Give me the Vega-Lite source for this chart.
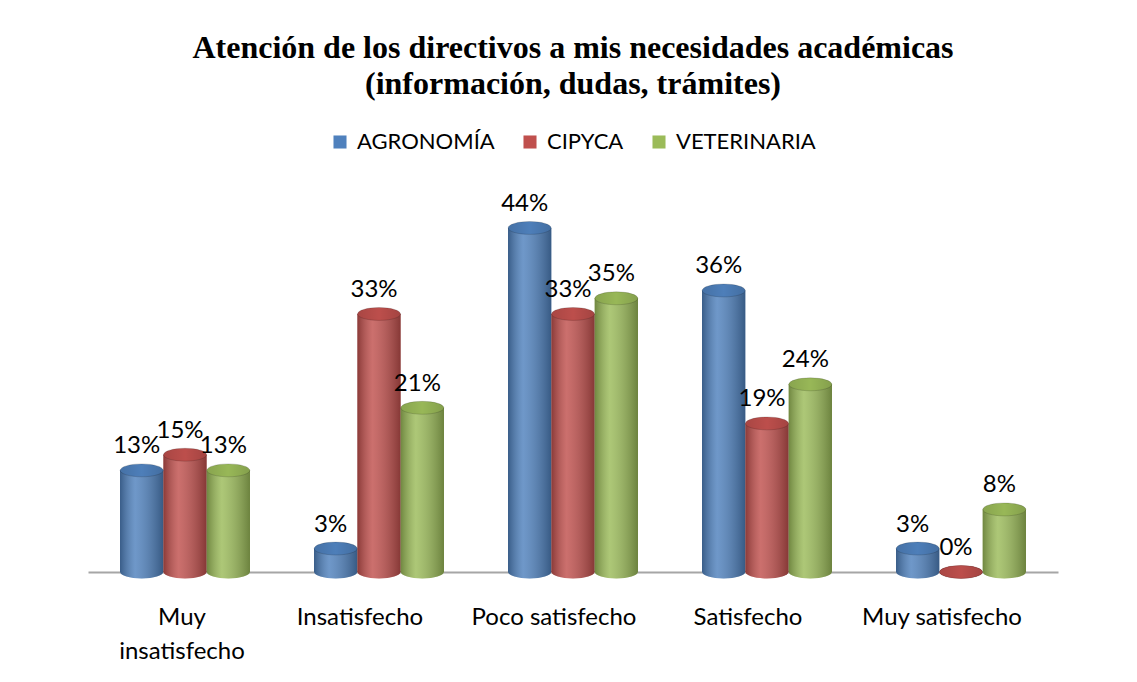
{
  "$schema": "https://vega.github.io/schema/vega-lite/v6.json",
  "autosize": "none",
  "width": 970,
  "height": 391,
  "padding": {"left": 88, "top": 181, "right": 79, "bottom": 110},
  "background": "white",
  "title": {
    "text": ["Atención de los directivos a mis necesidades académicas", "(información, dudas, trámites)"],
    "font": "Liberation Serif",
    "fontSize": 32,
    "fontWeight": "bold",
    "lineHeight": 36,
    "color": "#000000",
    "anchor": "middle",
    "frame": "group",
    "offset": 30
  },
  "config": {
    "view": {"stroke": null},
    "font": "Lato"
  },
  "data": {
    "values": [
      {"cat": "Muy insatisfecho", "serie": "AGRONOMÍA", "v": 0.13},
      {"cat": "Muy insatisfecho", "serie": "CIPYCA", "v": 0.15},
      {"cat": "Muy insatisfecho", "serie": "VETERINARIA", "v": 0.13},
      {"cat": "Insatisfecho", "serie": "AGRONOMÍA", "v": 0.03},
      {"cat": "Insatisfecho", "serie": "CIPYCA", "v": 0.33},
      {"cat": "Insatisfecho", "serie": "VETERINARIA", "v": 0.21},
      {"cat": "Poco satisfecho", "serie": "AGRONOMÍA", "v": 0.44},
      {"cat": "Poco satisfecho", "serie": "CIPYCA", "v": 0.33},
      {"cat": "Poco satisfecho", "serie": "VETERINARIA", "v": 0.35},
      {"cat": "Satisfecho", "serie": "AGRONOMÍA", "v": 0.36},
      {"cat": "Satisfecho", "serie": "CIPYCA", "v": 0.19},
      {"cat": "Satisfecho", "serie": "VETERINARIA", "v": 0.24},
      {"cat": "Muy satisfecho", "serie": "AGRONOMÍA", "v": 0.03},
      {"cat": "Muy satisfecho", "serie": "CIPYCA", "v": 0.0},
      {"cat": "Muy satisfecho", "serie": "VETERINARIA", "v": 0.08}
    ]
  },
  "encoding": {
    "x": {
      "field": "cat",
      "type": "nominal",
      "sort": null,
      "scale": {"paddingInner": 0.33, "paddingOuter": 0.165},
      "axis": {
        "title": null,
        "labelAngle": 0,
        "labelFontSize": 24,
        "labelFont": "Lato",
        "labelColor": "#000000",
        "labelPadding": 33,
        "labelLineHeight": 34,
        "labelBaseline": "top",
        "labelOffset": {"condition": {"test": "datum.value == 'Muy insatisfecho'", "value": -3}, "value": -19},
        "ticks": false,
        "domainColor": "#a6a6a6",
        "domainWidth": 2,
        "labelExpr": "datum.value == 'Muy insatisfecho' ? ['Muy', 'insatisfecho'] : datum.value"
      }
    },
    "xOffset": {
      "field": "serie",
      "type": "nominal",
      "sort": ["AGRONOMÍA", "CIPYCA", "VETERINARIA"],
      "scale": {"paddingInner": 0, "paddingOuter": 0}
    },
    "y": {
      "field": "v",
      "type": "quantitative",
      "scale": {"domain": [0, 0.5]},
      "axis": null
    }
  },
  "layer": [
    {
      "mark": {"type": "point", "shape": "M-1,0 A1,0.3 0 1,0 1,0 A1,0.3 0 1,0 -1,0 Z", "size": 1849, "filled": true, "opacity": 1},
      "encoding": {
        "y": {"datum": 0},
        "color": {
          "field": "serie", "type": "nominal",
          "scale": {"domain": ["AGRONOMÍA", "CIPYCA", "VETERINARIA"], "range": ["#4F81BD", "#C0504D", "#9BBB59"]},
          "legend": {
            "orient": "none",
            "legendX": 241,
            "legendY": -50,
            "direction": "horizontal",
            "title": null,
            "symbolType": "square",
            "symbolSize": 170,
            "symbolOpacity": 1,
            "labelFontSize": 22,
            "labelFont": "Lato",
            "labelColor": "#000000",
            "columnPadding": 24,
            "labelOffset": 6
          }
        }
      }
    },
    {
      "mark": {
        "type": "point", "shape": "M-1,0 A1,0.3 0 1,0 1,0 A1,0.3 0 1,0 -1,0 Z", "size": 1849, "filled": true, "opacity": 1,
        "fill": {"x1": 0, "x2": 1, "y1": 0, "y2": 0, "gradient": "linear", "stops": [
          {"offset": 0, "color": "rgba(0,0,0,0.28)"},
          {"offset": 0.35, "color": "rgba(255,255,255,0.18)"},
          {"offset": 1, "color": "rgba(0,0,0,0.3)"}
        ]}
      },
      "encoding": {"y": {"datum": 0}}
    },
    {
      "mark": {"type": "bar"},
      "encoding": {
        "color": {"field": "serie", "type": "nominal"}
      }
    },
    {
      "mark": {
        "type": "bar",
        "fill": {"x1": 0, "x2": 1, "y1": 0, "y2": 0, "gradient": "linear", "stops": [
          {"offset": 0, "color": "rgba(0,0,0,0.28)"},
          {"offset": 0.35, "color": "rgba(255,255,255,0.18)"},
          {"offset": 1, "color": "rgba(0,0,0,0.3)"}
        ]}
      }
    },
    {
      "mark": {"type": "point", "shape": "M-1,0 A1,0.3 0 1,0 1,0 A1,0.3 0 1,0 -1,0 Z", "size": 1849, "filled": true, "opacity": 1},
      "encoding": {
        "color": {"field": "serie", "type": "nominal"}
      }
    },
    {
      "mark": {
        "type": "point", "shape": "M-1,0 A1,0.3 0 1,0 1,0 A1,0.3 0 1,0 -1,0 Z", "size": 1849, "filled": true, "opacity": 1,
        "fill": {"x1": 0, "x2": 1, "y1": 0, "y2": 0, "gradient": "linear", "stops": [
          {"offset": 0, "color": "rgba(0,0,0,0.12)"},
          {"offset": 0.5, "color": "rgba(0,0,0,0.02)"},
          {"offset": 1, "color": "rgba(0,0,0,0.15)"}
        ]},
        "stroke": "rgba(0,0,0,0.15)",
        "strokeWidth": 1
      }
    },
    {
      "mark": {"type": "text", "baseline": "middle", "dy": -24, "dx": -5, "fontSize": 24, "font": "Lato", "color": "#000000"},
      "encoding": {
        "text": {"field": "v", "type": "quantitative", "format": ".0%"}
      }
    }
  ]
}
